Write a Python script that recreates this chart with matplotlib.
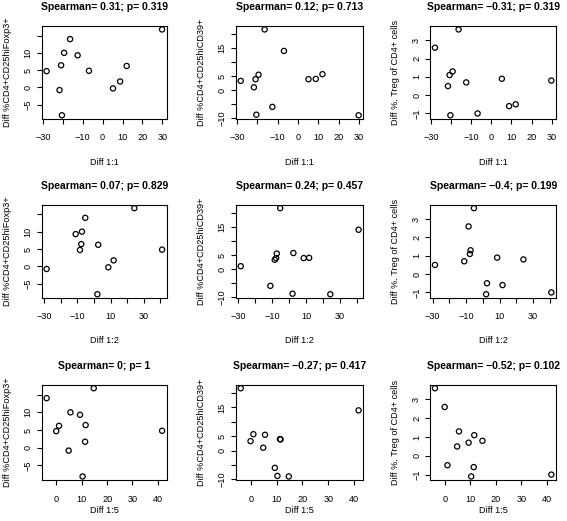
import matplotlib
matplotlib.use("Agg")
import matplotlib.pyplot as plt
import numpy as np

plt.rcParams["font.family"] = ["Liberation Sans", "DejaVu Sans"]

# x: difference at each dilution (one value per subject, nan = missing)
diff_1_1 = [-28.2, -21.7, -20.9, -20.5, -19.4, -16.4, -12.6, -6.9, 5.2, 8.8, 12.1, 29.9]
diff_1_2 = [-8.5, -28.6, -7.7, 2.0, -7.3, -5.3, -11.1, 41.0, 8.6, 11.8, 2.5, 24.3]
diff_1_5 = [-0.1, 4.8, 11.5, 10.3, 5.5, -3.9, 9.3, 41.7, np.nan, 11.3, 1.0, 14.7]

# y: change in each cell population
foxp3 = [4.7, -0.8, 6.4, -8.1, 10.0, 14.0, 9.3, 4.8, -0.3, 1.7, 6.2, 16.8]
cd39 = [3.3, 1.0, 3.9, -8.8, 5.5, 21.7, -6.0, 14.0, 3.9, 4.0, 5.7, -9.0]
treg = [2.6, 0.5, 1.1, -1.1, 1.3, 3.6, 0.7, -1.0, 0.9, -0.6, -0.5, 0.8]

x_names = ["Diff 1:1", "Diff 1:2", "Diff 1:5"]
y_names = ["Diff %CD4+CD25hiFoxp3+", "Diff %CD4+CD25hiCD39+", "Diff %. Treg of CD4+ cells"]

titles = [
    ["Spearman= 0.31; p= 0.319", "Spearman= 0.12; p= 0.713", "Spearman= \u22120.31; p= 0.319"],
    ["Spearman= 0.07; p= 0.829", "Spearman= 0.24; p= 0.457", "Spearman= \u22120.4; p= 0.199"],
    ["Spearman= 0; p= 1", "Spearman= \u22120.27; p= 0.417", "Spearman= \u22120.52; p= 0.102"],
]

# R-style axis ticks, with the labels R dropped left blank
x_ticks = [
    ([-30, -20, -10, 0, 10, 20, 30], ["\u221230", "", "\u221210", "0", "10", "20", "30"]),
    ([-30, -20, -10, 0, 10, 20, 30, 40], ["\u221230", "", "\u221210", "", "10", "", "30", ""]),
    ([0, 10, 20, 30, 40], ["0", "10", "20", "30", "40"]),
]
y_ticks = [
    ([-5, 0, 5, 10, 15], ["\u22125", "0", "5", "10", ""]),
    ([-10, -5, 0, 5, 10, 15, 20], ["\u221210", "", "0", "5", "", "15", ""]),
    ([-1, 0, 1, 2, 3], ["\u22121", "0", "1", "2", "3"]),
]

xs = [diff_1_1, diff_1_2, diff_1_5]
ys = [foxp3, cd39, treg]

W, H = 567, 521
col_px = [(42, 166.7), (236, 363.3), (430.3, 556)]
row_px = [(26, 118.7), (204.7, 297.7), (384.7, 480)]
xlabel_pad = [11.5, 10.5, 1.5]

fig = plt.figure(figsize=(W / 100, H / 100), dpi=100)

for r in range(3):
    for c in range(3):
        x0, x1 = col_px[c]
        y0, y1 = row_px[r]
        ax = fig.add_axes([x0 / W, 1 - y1 / H, (x1 - x0) / W, (y1 - y0) / H])
        ax.scatter(xs[r], ys[c], s=14, facecolors="none", edgecolors="black", linewidths=0.9)
        ax.margins(0.04)

        ax.set_xticks(*x_ticks[r])
        ax.set_yticks(*y_ticks[c])
        ax.tick_params(direction="out", length=3.6, width=0.8, labelsize=6.6, color="black")
        ax.tick_params(axis="x", pad=7)
        ax.tick_params(axis="y", pad=3)
        plt.setp(ax.get_yticklabels(), rotation=90, va="center")
        for s in ax.spines.values():
            s.set_linewidth(0.8)
            s.set_color("black")

        ax.set_xlabel(x_names[r], fontsize=6.6, labelpad=xlabel_pad[r])
        ax.set_ylabel(y_names[c], fontsize=6.6, labelpad=8.6)
        ax.set_title(titles[r][c], fontsize=7.5, fontweight="bold", pad=11.5)

fig.savefig("out.png", dpi=100)
